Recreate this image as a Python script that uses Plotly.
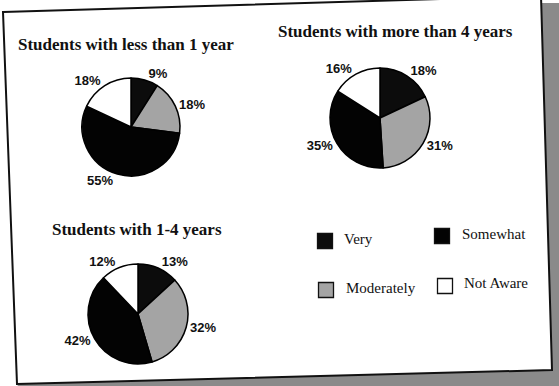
import plotly.graph_objects as go

W, H = 559, 386

# Awareness categories, in clockwise slice order starting at 12 o'clock
categories = ["Very", "Moderately", "Somewhat", "Not Aware"]
legend_rows = [["Very", "Somewhat"], ["Moderately", "Not Aware"]]

# Percent of students in each group
less_than_1_year = [9, 18, 55, 18]
more_than_4_years = [18, 31, 35, 16]
one_to_4_years = [13, 32, 42, 12]

titles = [
    "Students with less than 1 year",
    "Students with more than 4 years",
    "Students with 1-4 years",
]

colors = {
    "Very": "#0c0c0c",
    "Moderately": "#a4a4a4",
    "Somewhat": "#030303",
    "Not Aware": "#ffffff",
}


def px(x):
    return x / W


def py(y):
    return 1 - y / H


# centre x, centre y, radius, title centre x, title centre y (pixels)
layout_spec = [
    (131, 127, 49, 126, 45),
    (380, 118, 50, 395, 32),
    (138, 314, 50, 137, 229),
]
series = [less_than_1_year, more_than_4_years, one_to_4_years]

fig = go.Figure()

for values, (cx, cy, r, tx, ty) in zip(series, layout_spec):
    fig.add_trace(
        go.Pie(
            labels=categories,
            values=values,
            sort=False,
            direction="clockwise",
            rotation=0,
            marker=dict(
                colors=[colors[c] for c in categories],
                line=dict(color="#000000", width=1.5),
            ),
            textposition="outside",
            texttemplate="%{value}%",
            textfont=dict(family="Liberation Sans", size=13, color="#111111", weight="bold"),
            domain=dict(x=[px(cx - r), px(cx + r)], y=[py(cy + r), py(cy - r)]),
            hoverinfo="label+percent",
            showlegend=False,
        )
    )

annotations = []
for title, (cx, cy, r, tx, ty) in zip(titles, layout_spec):
    annotations.append(
        dict(
            text=title,
            x=px(tx), y=py(ty), xref="paper", yref="paper",
            xanchor="center", yanchor="middle", showarrow=False,
            font=dict(family="Liberation Serif", size=17, color="#111111", weight="bold"),
        )
    )

shapes = []

# grey desk visible beyond the page on the right and below
shapes.append(dict(
    type="path", xref="paper", yref="paper", layer="below",
    path=f"M {px(542)},{py(3)} L {px(559)},{py(3)} L {px(559)},{py(386)} L {px(17)},{py(386)} Z",
    fillcolor="#8a8a8a", line=dict(width=0),
))
# page border
shapes.append(dict(
    type="path", xref="paper", yref="paper", layer="below",
    path=(f"M {px(3)},{py(12)} L {px(541)},{py(-4)} L {px(552)},{py(370)} "
          f"L {px(17)},{py(384)} Z"),
    fillcolor="#ffffff", line=dict(color="#111111", width=2),
))

# legend: squares and labels laid out in two rows
legend_pos = {
    "Very": (325, 241, 342, 239),
    "Somewhat": (442, 236, 460, 234),
    "Moderately": (326, 290, 344, 288),
    "Not Aware": (445, 286, 462, 283),
}
for row in legend_rows:
    for name in row:
        sx, sy, lx, ly = legend_pos[name]
        s = 7.5
        shapes.append(dict(
            type="rect", xref="paper", yref="paper",
            x0=px(sx - s), x1=px(sx + s), y0=py(sy + s), y1=py(sy - s),
            fillcolor=colors[name], line=dict(color="#111111", width=1.3),
        ))
        annotations.append(dict(
            text=name, x=px(lx), y=py(ly), xref="paper", yref="paper",
            xanchor="left", yanchor="middle", showarrow=False,
            font=dict(family="Liberation Serif", size=15, color="#111111"),
        ))

fig.update_layout(
    width=W, height=H,
    margin=dict(l=0, r=0, t=0, b=0),
    paper_bgcolor="#ffffff",
    plot_bgcolor="#ffffff",
    showlegend=False,
    shapes=shapes,
    annotations=annotations,
)

fig.write_html("out.html")
